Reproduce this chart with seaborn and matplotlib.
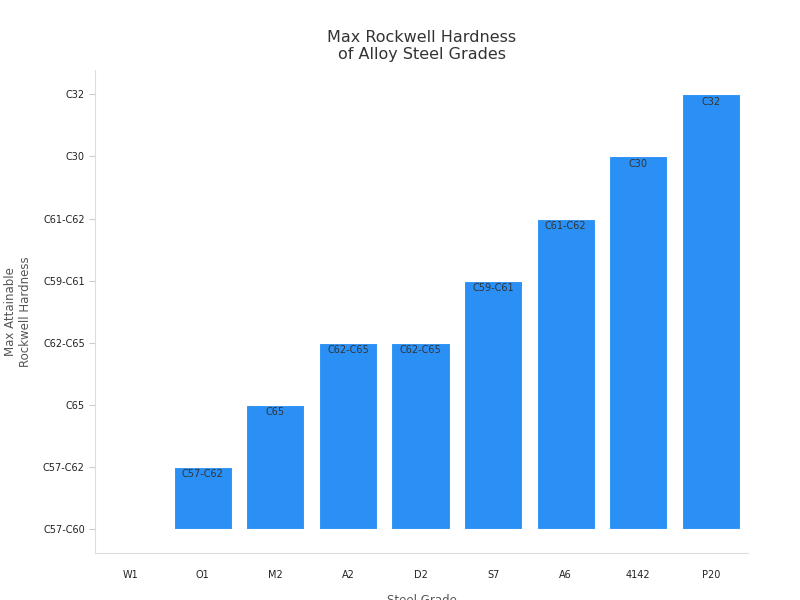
import matplotlib
matplotlib.use("Agg")
import matplotlib.pyplot as plt
import seaborn as sns
import pandas as pd

grades = ["W1", "O1", "M2", "A2", "D2", "S7", "A6", "4142", "P20"]
hardness = ["C57-C60", "C57-C62", "C65", "C62-C65", "C62-C65", "C59-C61", "C61-C62", "C30", "C32"]
levels = ["C57-C60", "C57-C62", "C65", "C62-C65", "C59-C61", "C61-C62", "C30", "C32"]

df = pd.DataFrame({"grade": grades, "label": hardness,
                   "value": [levels.index(h) for h in hardness]})

sns.set_style("white")
fig = plt.figure(figsize=(8, 6), dpi=100)
ax = fig.add_axes([0.119, 0.078, 0.816, 0.805])
sns.barplot(data=df, x="grade", y="value", color="#2b90f5", saturation=1,
            width=0.8, ax=ax, edgecolor="white", linewidth=0.8)
for i, (v, lab) in enumerate(zip(df["value"], df["label"])):
    if v > 0:
        ax.text(i, v - 0.04, lab, ha="center", va="top", fontsize=7, color="#333333")
ax.set_ylim(-0.39, 7.39)
ax.set_xlim(-0.48, 8.51)
ax.set_yticks(range(len(levels)))
ax.set_yticklabels(levels, fontsize=7, color="#222222")
ax.tick_params(axis="x", labelsize=7, colors="#222222", pad=8)
ax.tick_params(axis="both", length=4, color="#cccccc", left=True, bottom=False)
ax.set_xlabel("Steel Grade", fontsize=8.5, color="#555555", labelpad=10)
ax.set_ylabel("Max Attainable\nRockwell Hardness", fontsize=8.5, color="#555555", labelpad=8)
ax.set_title("Max Rockwell Hardness\nof Alloy Steel Grades", fontsize=11.5, color="#333333", pad=8)
for s in ["top", "right"]:
    ax.spines[s].set_visible(False)
for s in ["left", "bottom"]:
    ax.spines[s].set_color("#dddddd")
fig.savefig("out.png")
